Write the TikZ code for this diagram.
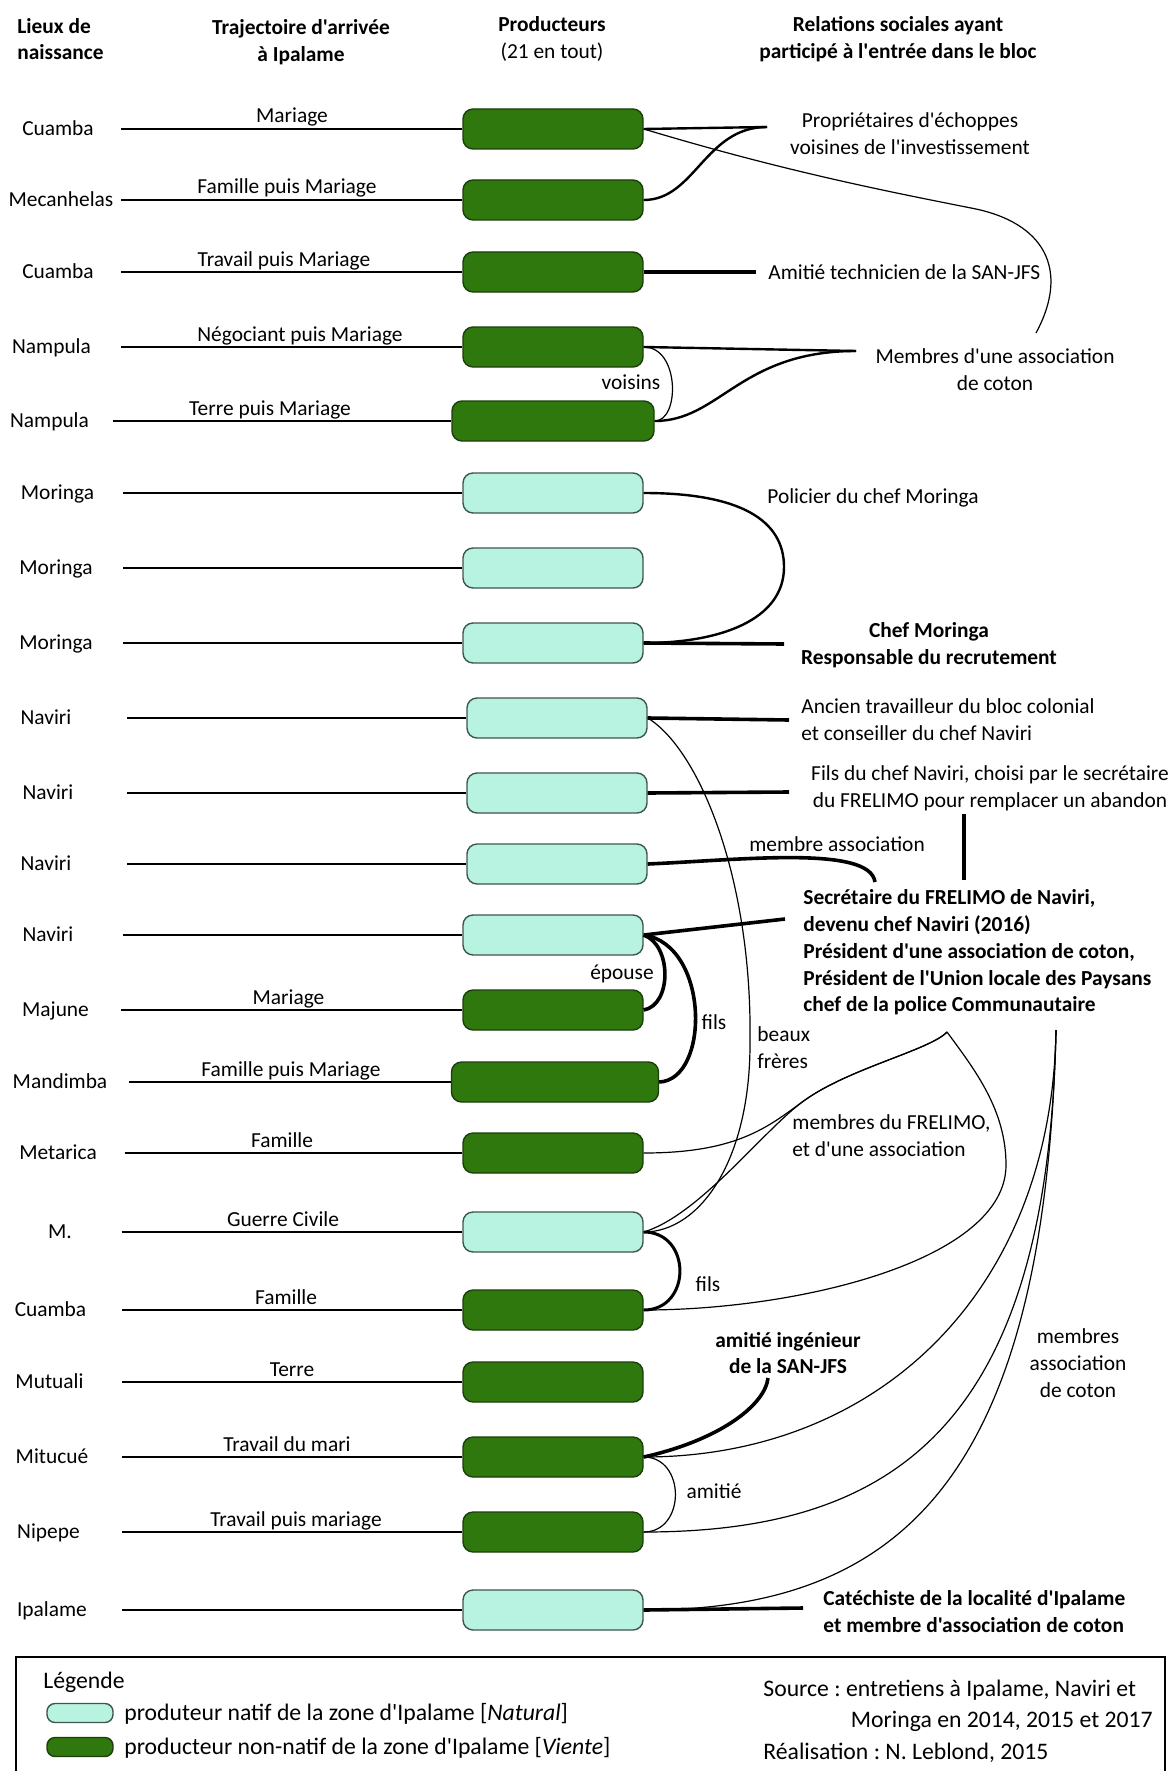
\documentclass[tikz,border=0pt]{standalone}
\usepackage{fontspec}
\setmainfont{Carlito}[Ligatures=TeXOff]
\definecolor{vertfonce}{RGB}{46,120,14}
\definecolor{bordfonce}{RGB}{28,62,10}
\definecolor{turquoise}{RGB}{183,243,224}
\definecolor{bordclair}{RGB}{62,86,76}
\frenchspacing
\begin{document}
\begin{tikzpicture}[x=0.5pt,y=-0.5pt]
\fontsize{10.7}{13.4}\selectfont
  \tikzstyle{natif}=[rounded corners=5pt,draw=bordclair,line width=0.7pt,fill=turquoise,minimum width=90pt,minimum height=20pt,inner sep=0pt]
  \tikzstyle{vient}=[rounded corners=5pt,draw=bordfonce,line width=0.7pt,fill=vertfonce,minimum width=90pt,minimum height=20pt,inner sep=0pt]
  \tikzstyle{lieu}=[text height=1.5ex,text depth=.25ex,inner sep=0pt]
  \tikzstyle{traj}=[anchor=base,inner sep=0pt]
  \tikzstyle{titre}=[font=\bfseries,align=center,inner sep=0pt]
  \tikzstyle{rel}=[align=center,inner sep=0pt]
  \tikzstyle{trait}=[line width=0.9pt]
  \tikzstyle{fin}=[line width=0.6pt]
  \tikzstyle{moyen}=[line width=1.2pt]
  \tikzstyle{epais}=[line width=1.8pt]

  \useasboundingbox (0,0) rectangle (1171,1771);

  % en-tetes
  \node[titre,align=left,anchor=west](tLieux) at (17,39) {Lieux de\\naissance};
  \node[titre](tTraj) at (301,42) {Trajectoire d'arrivée\\à Ipalame};
  \node[rel](tProd) at (552,39) {\textbf{Producteurs}\\(21 en tout)};
  \node[titre](tRel) at (898,39) {Relations sociales ayant\\participé à l'entrée dans le bloc};

  % producteurs
  \node[lieu](lieu1) at (58,129) {Cuamba};
  \node[vient](prod1) at (553,129) {};
  \coordinate (g1) at (121,129);
  \draw[trait] (g1) -- (prod1.west);
  \node[traj](traj1) at (292,123) {Mariage};

  \node[lieu](lieu2) at (61,200) {Mecanhelas};
  \node[vient](prod2) at (553,200) {};
  \coordinate (g2) at (121,200);
  \draw[trait] (g2) -- (prod2.west);
  \node[traj](traj2) at (287,194) {Famille puis Mariage};

  \node[lieu](lieu3) at (58,272) {Cuamba};
  \node[vient](prod3) at (553,272) {};
  \coordinate (g3) at (121,272);
  \draw[trait] (g3) -- (prod3.west);
  \node[traj](traj3) at (284,266) {Travail puis Mariage};

  \node[lieu](lieu4) at (51.5,347) {Nampula};
  \node[vient](prod4) at (553,347) {};
  \coordinate (g4) at (121,347);
  \draw[trait] (g4) -- (prod4.west);
  \node[traj](traj4) at (300,341) {Négociant puis Mariage};

  \node[lieu](lieu5) at (49.5,421) {Nampula};
  \node[vient,minimum width=101pt](prod5) at (553,421) {};
  \coordinate (g5) at (112.5,421);
  \draw[trait] (g5) -- (prod5.west);
  \node[traj](traj5) at (270,415) {Terre puis Mariage};

  \node[lieu](lieu6) at (57.5,493) {Moringa};
  \node[natif](prod6) at (553,493) {};
  \coordinate (g6) at (123,493);
  \draw[trait] (g6) -- (prod6.west);

  \node[lieu](lieu7) at (56,568) {Moringa};
  \node[natif](prod7) at (553,568) {};
  \coordinate (g7) at (123,568);
  \draw[trait] (g7) -- (prod7.west);

  \node[lieu](lieu8) at (56,643) {Moringa};
  \node[natif](prod8) at (553,643) {};
  \coordinate (g8) at (123,643);
  \draw[trait] (g8) -- (prod8.west);

  \node[lieu](lieu9) at (46,718) {Naviri};
  \node[natif](prod9) at (557,718) {};
  \coordinate (g9) at (127,718);
  \draw[trait] (g9) -- (prod9.west);

  \node[lieu](lieu10) at (48,793) {Naviri};
  \node[natif](prod10) at (557,793) {};
  \coordinate (g10) at (127,793);
  \draw[trait] (g10) -- (prod10.west);

  \node[lieu](lieu11) at (46,864) {Naviri};
  \node[natif](prod11) at (557,864) {};
  \coordinate (g11) at (127,864);
  \draw[trait] (g11) -- (prod11.west);

  \node[lieu](lieu12) at (48,935) {Naviri};
  \node[natif](prod12) at (553,935) {};
  \coordinate (g12) at (123,935);
  \draw[trait] (g12) -- (prod12.west);

  \node[lieu](lieu13) at (55.5,1010) {Majune};
  \node[vient](prod13) at (553,1010) {};
  \coordinate (g13) at (121,1010);
  \draw[trait] (g13) -- (prod13.west);
  \node[traj](traj13) at (288.5,1004) {Mariage};

  \node[lieu](lieu14) at (60,1082) {Mandimba};
  \node[vient,minimum width=103.5pt](prod14) at (555,1082) {};
  \coordinate (g14) at (129,1082);
  \draw[trait] (g14) -- (prod14.west);
  \node[traj](traj14) at (291,1076) {Famille puis Mariage};

  \node[lieu](lieu15) at (58,1153) {Metarica};
  \node[vient](prod15) at (553,1153) {};
  \coordinate (g15) at (124.5,1153);
  \draw[trait] (g15) -- (prod15.west);
  \node[traj](traj15) at (282,1147) {Famille};

  \node[lieu](lieu16) at (60,1232) {M.};
  \node[natif](prod16) at (553,1232) {};
  \coordinate (g16) at (121.5,1232);
  \draw[trait] (g16) -- (prod16.west);
  \node[traj](traj16) at (283,1226) {Guerre Civile};

  \node[lieu](lieu17) at (50.5,1310) {Cuamba};
  \node[vient](prod17) at (553,1310) {};
  \coordinate (g17) at (121.5,1310);
  \draw[trait] (g17) -- (prod17.west);
  \node[traj](traj17) at (286,1304) {Famille};

  \node[lieu](lieu18) at (49.5,1382) {Mutuali};
  \node[vient](prod18) at (553,1382) {};
  \coordinate (g18) at (122,1382);
  \draw[trait] (g18) -- (prod18.west);
  \node[traj](traj18) at (292,1376) {Terre};

  \node[lieu](lieu19) at (52,1457) {Mitucué};
  \node[vient](prod19) at (553,1457) {};
  \coordinate (g19) at (122,1457);
  \draw[trait] (g19) -- (prod19.west);
  \node[traj](traj19) at (287,1451) {Travail du mari};

  \node[lieu](lieu20) at (48.5,1532) {Nipepe};
  \node[vient](prod20) at (553,1532) {};
  \coordinate (g20) at (122,1532);
  \draw[trait] (g20) -- (prod20.west);
  \node[traj](traj20) at (296,1526) {Travail puis mariage};

  \node[lieu](lieu21) at (52,1610) {Ipalame};
  \node[natif](prod21) at (553,1610) {};
  \coordinate (g21) at (122,1610);
  \draw[trait] (g21) -- (prod21.west);

  % relations : echoppes, technicien, association
  \coordinate (pProp) at (767,127);
  \draw[moyen] (prod1.east) -- (pProp);
  \draw[moyen] (prod2.east) .. controls (695,200) and (705,127) .. (pProp);
  \node[rel](propr) at (910,134) {Propriétaires d'échoppes\\voisines de l'investissement};

  \coordinate (pTech) at (756,272);
  \draw[epais] (prod3.east) -- (pTech);
  \node[lieu,anchor=west](tech) at (768,273) {Amitié technicien de la SAN-JFS};

  \coordinate (pAsso) at (856,351);
  \coordinate (pAssoHaut) at (1036,333);
  \draw[moyen] (prod4.east) -- (pAsso);
  \draw[moyen] (prod5.east) .. controls (720,421) and (740,351) .. (pAsso);
  \draw[fin] (prod4.east) .. controls (680,347) and (680,421) .. (prod5.east);
  \node[lieu](voisins) at (631,383) {voisins};
  \draw[fin] (prod1.east) .. controls (780,170) and (880,190) .. (971,208) .. controls (1045,222) and (1070,270) .. (pAssoHaut);
  \node[rel](asso) at (995,370) {Membres d'une association\\de coton};

  % Moringa
  \draw[moyen] (prod6.east) .. controls (740,493) and (784,520) .. (784,567) .. controls (784,620) and (720,643) .. (prod8.east);
  \node[lieu,anchor=west](policier) at (767,497) {Policier du chef Moringa};
  \coordinate (pChefM) at (784,644);
  \draw[epais] (prod8.east) -- (pChefM);
  \node[rel,font=\bfseries](chefM) at (929,645) {Chef Moringa\\Responsable du recrutement};

  % Naviri
  \coordinate (pAncien) at (789,720);
  \draw[epais] (prod9.east) -- (pAncien);
  \node[rel,align=left,anchor=west](ancien) at (801,720) {Ancien travailleur du bloc colonial\\et conseiller du chef Naviri};
  \coordinate (pFils) at (789,792);
  \draw[epais] (prod10.east) -- (pFils);
  \node[rel](filsChef) at (990,788) {Fils du chef Naviri, choisi par le secrétaire\\du FRELIMO pour remplacer un abandon};
  \coordinate (pVertHaut) at (964,814);
  \coordinate (pVertBas) at (964,880);
  \draw[epais] (pVertHaut) -- (pVertBas);
  \coordinate (pMembre) at (875,882);
  \draw[epais] (prod11.east) .. controls (740,860) and (870,845) .. (pMembre);
  \node[lieu](membre) at (837,845) {membre association};
  \coordinate (pSecr) at (785,919);
  \draw[epais] (prod12.east) -- (pSecr);
  \node[rel,font=\bfseries,align=left,anchor=west](secr) at (803,952.5) {Secrétaire du FRELIMO de Naviri,\\devenu chef Naviri (2016)\\Président d'une association de coton,\\Président de l'Union locale des Paysans\\chef de la police Communautaire};
  \draw[epais] (prod12.east) .. controls (672,945) and (672,1005) .. (prod13.east);
  \node[lieu](epouse) at (622,973) {épouse};
  \draw[epais] (prod12.east) .. controls (710,945) and (710,1080) .. (prod14.east);
  \node[lieu](fils1) at (714,1023) {fils};

  % beaux freres
  \draw[fin] (prod9.east) .. controls (700,750) and (752,880) .. (750,1040) .. controls (751,1160) and (700,1232) .. (prod16.east);
  \node[rel,align=left,anchor=west](beaux) at (757,1048) {beaux\\frères};

  % FRELIMO
  \coordinate (pPointe) at (947,1032);
  \draw[fin] (prod15.east) .. controls (740,1153) and (770,1125) .. (805,1100) .. controls (850,1068) and (930,1050) .. (pPointe);
  \draw[fin] (prod16.east) .. controls (700,1215) and (765,1128) .. (805,1100) .. controls (850,1068) and (930,1050) .. (pPointe);
  \draw[fin] (pPointe) .. controls (975,1070) and (1006,1110) .. (1006,1165) .. controls (1006,1260) and (800,1310) .. (prod17.east);
  \node[rel,align=left,anchor=west](frelimo) at (792,1135.5) {membres du FRELIMO,\\et d'une association};
  \draw[line width=1.5pt] (prod16.east) .. controls (692,1232) and (692,1310) .. (prod17.east);
  \node[lieu](fils2) at (708,1285) {fils};

  % association de coton, ingenieur, catechiste
  \coordinate (pFanHaut) at (1056,1030);
  \draw[fin] (pFanHaut) .. controls (1052,1290) and (880,1457) .. (prod19.east);
  \draw[fin] (pFanHaut) .. controls (1048,1420) and (900,1532) .. (prod20.east);
  \draw[fin] (pFanHaut) .. controls (1045,1480) and (900,1610) .. (prod21.east);
  \node[rel](membresCoton) at (1078,1363) {membres\\association\\de coton};
  \coordinate (pIng) at (768,1378);
  \draw[epais] (prod19.east) .. controls (720,1440) and (765,1405) .. (pIng);
  \node[rel,font=\bfseries](ing) at (788,1353) {amitié ingénieur\\de la SAN-JFS};
  \draw[fin] (prod19.east) .. controls (686,1457) and (686,1532) .. (prod20.east);
  \node[lieu](amitie) at (714,1492) {amitié};
  \coordinate (pCatech) at (803,1608);
  \draw[epais] (prod21.east) -- (pCatech);
  \node[rel,font=\bfseries,align=left,anchor=west](catech) at (823,1611.5) {Catéchiste de la localité d'Ipalame\\et membre d'association de coton};

  % legende
  \draw[fin] (16,1657) rectangle (1165,1790);
  \begin{scope}[font=\fontsize{11.85}{14}\selectfont]
  \node[lieu,anchor=west](legende) at (43,1682) {Légende};
  \node[natif,minimum width=33pt,minimum height=9.5pt,rounded corners=4pt](legNatif) at (80,1713) {};
  \node[lieu,anchor=west](txtNatif) at (124,1714) {produteur natif de la zone d'Ipalame [\textit{Natural}]};
  \node[vient,minimum width=33pt,minimum height=9.5pt,rounded corners=4pt](legVient) at (80,1747) {};
  \node[lieu,anchor=west](txtVient) at (124,1748) {producteur non-natif de la zone d'Ipalame [\textit{Viente}]};
  \node[lieu,anchor=west](source) at (763,1690) {Source : entretiens à Ipalame, Naviri et};
  \node[lieu,anchor=east](source2) at (1153,1721) {Moringa en 2014, 2015 et 2017};
  \node[lieu,anchor=west](realis) at (763,1753) {Réalisation : N. Leblond, 2015};
  \end{scope}
\end{tikzpicture}
\end{document}
